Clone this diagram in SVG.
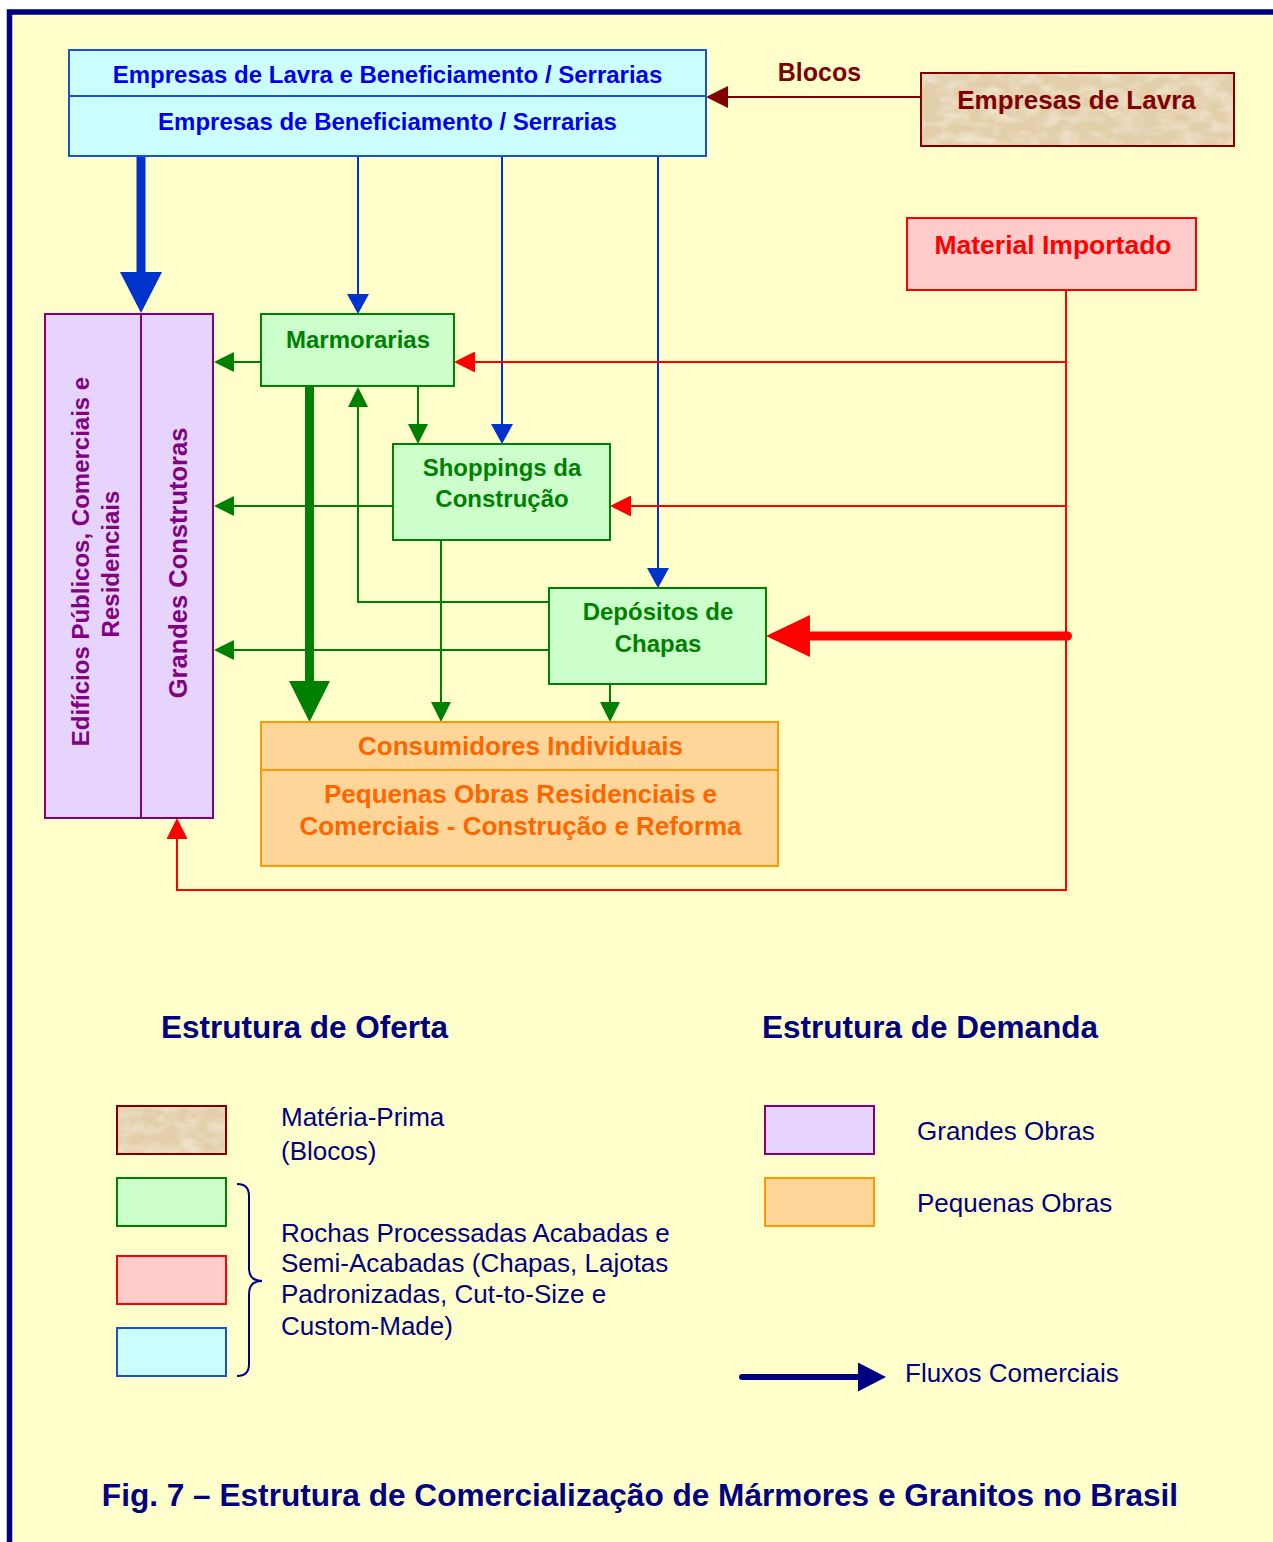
<svg xmlns="http://www.w3.org/2000/svg" width="1273" height="1542" viewBox="0 0 1273 1542">
<style>
text{font-family:"Liberation Sans",Arial,sans-serif}
.b{font-weight:bold}
.mid{text-anchor:middle}
.blueT{fill:#0000EE;font-size:24px}
.greenT{fill:#008000;font-size:24px}
.orangeT{fill:#FF6600;font-size:26px}
.purpleT{fill:#800080}
.leg{fill:#000080;font-size:26px}
.cyanBox{fill:#CCFFFF;stroke:#1A4FD8;stroke-width:2}
.greenBox{fill:#CCFFCC;stroke:#008000;stroke-width:2}
.redBox{fill:#FFCCCC;stroke:#FF0000;stroke-width:2}
.purpleBox{fill:#E6D4FF;stroke:#800080;stroke-width:2}
.orangeBox{fill:#FFD699;stroke:#FF9900;stroke-width:2}
.brownEdge{fill:none;stroke:#800000;stroke-width:2}
.cb{fill:none;stroke:#0033CC;stroke-width:2}
.cg{fill:none;stroke:#008000;stroke-width:2}
.cr{fill:none;stroke:#FF0000;stroke-width:2}
.thick{stroke-width:9;stroke-linecap:round}
</style>
<defs>
<marker id="bh" markerUnits="userSpaceOnUse" markerWidth="20" markerHeight="22" refX="0" refY="11" orient="auto"><path d="M0,0 L20,11 L0,22 z" fill="#0033CC"/></marker>
<marker id="gh" markerUnits="userSpaceOnUse" markerWidth="20" markerHeight="20" refX="0" refY="10" orient="auto"><path d="M0,0 L20,10 L0,20 z" fill="#008000"/></marker>
<marker id="rh" markerUnits="userSpaceOnUse" markerWidth="21" markerHeight="21" refX="0" refY="10.5" orient="auto"><path d="M0,0 L21,10.5 L0,21 z" fill="#FF0000"/></marker>
<marker id="mh" markerUnits="userSpaceOnUse" markerWidth="22" markerHeight="22" refX="0" refY="11" orient="auto"><path d="M0,0 L22,11 L0,22 z" fill="#800000"/></marker>
<marker id="BH" markerUnits="userSpaceOnUse" markerWidth="41" markerHeight="42" refX="0" refY="21" orient="auto"><path d="M0,0 L41,21 L0,42 z" fill="#0033CC"/></marker>
<marker id="GH" markerUnits="userSpaceOnUse" markerWidth="41" markerHeight="41" refX="0" refY="20.5" orient="auto"><path d="M0,0 L41,20.5 L0,41 z" fill="#008000"/></marker>
<marker id="RH" markerUnits="userSpaceOnUse" markerWidth="44" markerHeight="42" refX="0" refY="21" orient="auto"><path d="M0,0 L44,21 L0,42 z" fill="#FF0000"/></marker>
<marker id="NH" markerUnits="userSpaceOnUse" markerWidth="28" markerHeight="29" refX="0" refY="14.5" orient="auto"><path d="M0,0 L28,14.5 L0,29 z" fill="#000080"/></marker>
<filter id="marble" x="0" y="0" width="100%" height="100%">
<feTurbulence type="fractalNoise" baseFrequency="0.05 0.09" numOctaves="3" seed="4" result="n"/>
<feColorMatrix in="n" type="matrix" values="0 0 0 0 0.94 0 0 0 0 0.89 0 0 0 0 0.78 1.3 0 0 0 -0.5" result="l"/>
<feComposite in="l" in2="SourceGraphic" operator="in" result="lc"/>
<feMerge><feMergeNode in="SourceGraphic"/><feMergeNode in="lc"/></feMerge>
</filter>
</defs>

<rect x="0" y="0" width="1273" height="1542" fill="#FFFFFF"/>
<rect id="frame" x="9.5" y="12" width="1320" height="1600" fill="#FFFFCC" stroke="#000080" stroke-width="5.5"/>

<g id="connectors">
<path class="cb thick" d="M141,156 V272" marker-end="url(#BH)"/>
<path class="cb" d="M358,156 V294" marker-end="url(#bh)"/>
<path class="cb" d="M502,156 V424" marker-end="url(#bh)"/>
<path class="cb" d="M658,156 V568" marker-end="url(#bh)"/>
<path d="M921,97 H728" fill="none" stroke="#800000" stroke-width="2" marker-end="url(#mh)"/>
<path class="cr" d="M1066,290 V890 H177 V839" marker-end="url(#rh)"/>
<path class="cr" d="M1066,362 H475" marker-end="url(#rh)"/>
<path class="cr" d="M1066,506 H631" marker-end="url(#rh)"/>
<path class="cr thick" d="M1067.5,636 H810" marker-end="url(#RH)"/>
<path class="cg" d="M261,362 H234" marker-end="url(#gh)"/>
<path class="cg" d="M393,506 H234" marker-end="url(#gh)"/>
<path class="cg" d="M549,650 H234" marker-end="url(#gh)"/>
<path class="cg" d="M418,386 V424" marker-end="url(#gh)"/>
<path class="cg" d="M549,602 H358 V407" marker-end="url(#gh)"/>
<path class="cg" d="M441,540 V702" marker-end="url(#gh)"/>
<path class="cg" d="M610,684 V702" marker-end="url(#gh)"/>
<path class="cg thick" d="M309.5,386.5 V681" marker-end="url(#GH)"/>
</g>

<g id="node-beneficiamento">
<rect class="cyanBox" x="69" y="50" width="637" height="106"/>
<line x1="69" y1="96" x2="706" y2="96" stroke="#1A4FD8" stroke-width="2"/>
<text class="b mid blueT" x="387.5" y="82.5">Empresas de Lavra e Beneficiamento / Serrarias</text>
<text class="b mid blueT" x="387.5" y="130">Empresas de Beneficiamento / Serrarias</text>
</g>

<text id="label-blocos" class="b mid" x="819.5" y="81" fill="#800000" font-size="25">Blocos</text>

<g id="node-lavra">
<rect x="921" y="73" width="313" height="73" fill="#E2CEA8" filter="url(#marble)"/>
<rect class="brownEdge" x="921" y="73" width="313" height="73"/>
<text class="b mid" x="1076.5" y="109" fill="#800000" font-size="26">Empresas de Lavra</text>
</g>

<g id="node-importado">
<rect class="redBox" x="907" y="218" width="289" height="72"/>
<text class="b mid" x="1053" y="254" fill="#FF0000" font-size="26.5">Material Importado</text>
</g>

<g id="node-grandes">
<rect class="purpleBox" x="45" y="314" width="168" height="504"/>
<line x1="141" y1="314" x2="141" y2="818" stroke="#800080" stroke-width="2"/>
<text class="b mid purpleT" font-size="24" transform="translate(89,561.5) rotate(-90)">Edifícios Públicos, Comerciais e</text>
<text class="b mid purpleT" font-size="24" transform="translate(119,564) rotate(-90)">Residenciais</text>
<text class="b mid purpleT" font-size="25.5" transform="translate(187,563) rotate(-90)">Grandes Construtoras</text>
</g>

<g id="node-marmorarias">
<rect class="greenBox" x="261" y="314" width="193" height="72"/>
<text class="b mid greenT" x="358" y="348">Marmorarias</text>
</g>

<g id="node-shoppings">
<rect class="greenBox" x="393" y="444" width="217" height="96"/>
<text class="b mid greenT" x="502" y="476">Shoppings da</text>
<text class="b mid greenT" x="502" y="507">Construção</text>
</g>

<g id="node-depositos">
<rect class="greenBox" x="549" y="588" width="217" height="96"/>
<text class="b mid greenT" x="658" y="620">Depósitos de</text>
<text class="b mid greenT" x="658" y="651.5">Chapas</text>
</g>

<g id="node-consumidores">
<rect class="orangeBox" x="261" y="722" width="517" height="144"/>
<line x1="261" y1="770" x2="778" y2="770" stroke="#FF9900" stroke-width="2"/>
<text class="b mid orangeT" x="520.5" y="754.5">Consumidores Individuais</text>
<text class="b mid orangeT" x="520.5" y="803">Pequenas Obras Residenciais e</text>
<text class="b mid orangeT" x="520.5" y="835">Comerciais - Construção e Reforma</text>
</g>

<g id="legend">
<text class="b" x="161" y="1038" fill="#000080" font-size="31.5">Estrutura de Oferta</text>
<text class="b" x="762" y="1038" fill="#000080" font-size="31.5">Estrutura de Demanda</text>
<rect x="117" y="1106" width="109" height="48" fill="#E2CEA8" filter="url(#marble)"/>
<rect class="brownEdge" x="117" y="1106" width="109" height="48"/>
<rect class="greenBox" x="117" y="1178" width="109" height="48"/>
<rect class="redBox" x="117" y="1256" width="109" height="48"/>
<rect class="cyanBox" x="117" y="1328" width="109" height="48"/>
<path d="M237,1184 Q249,1184 249,1196 V1268 Q249,1281 262,1281 Q249,1281 249,1294 V1364 Q249,1376 237,1376" fill="none" stroke="#000080" stroke-width="2"/>
<text class="leg" x="281" y="1126">Matéria-Prima</text>
<text class="leg" x="281" y="1160">(Blocos)</text>
<text class="leg" x="281" y="1242">Rochas Processadas Acabadas e</text>
<text class="leg" x="281" y="1272">Semi-Acabadas (Chapas, Lajotas</text>
<text class="leg" x="281" y="1303">Padronizadas, Cut-to-Size e</text>
<text class="leg" x="281" y="1335">Custom-Made)</text>
<rect class="purpleBox" x="765" y="1106" width="109" height="48"/>
<rect class="orangeBox" x="765" y="1178" width="109" height="48"/>
<text class="leg" x="917" y="1140">Grandes Obras</text>
<text class="leg" x="917" y="1212">Pequenas Obras</text>
<path d="M742,1377 H858" fill="none" stroke="#000080" stroke-width="6" stroke-linecap="round" marker-end="url(#NH)"/>
<text class="leg" x="905" y="1382">Fluxos Comerciais</text>
</g>

<text id="caption" class="b mid" x="640" y="1506" fill="#000080" font-size="31.6">Fig. 7 – Estrutura de Comercialização de Mármores e Granitos no Brasil</text>
</svg>
